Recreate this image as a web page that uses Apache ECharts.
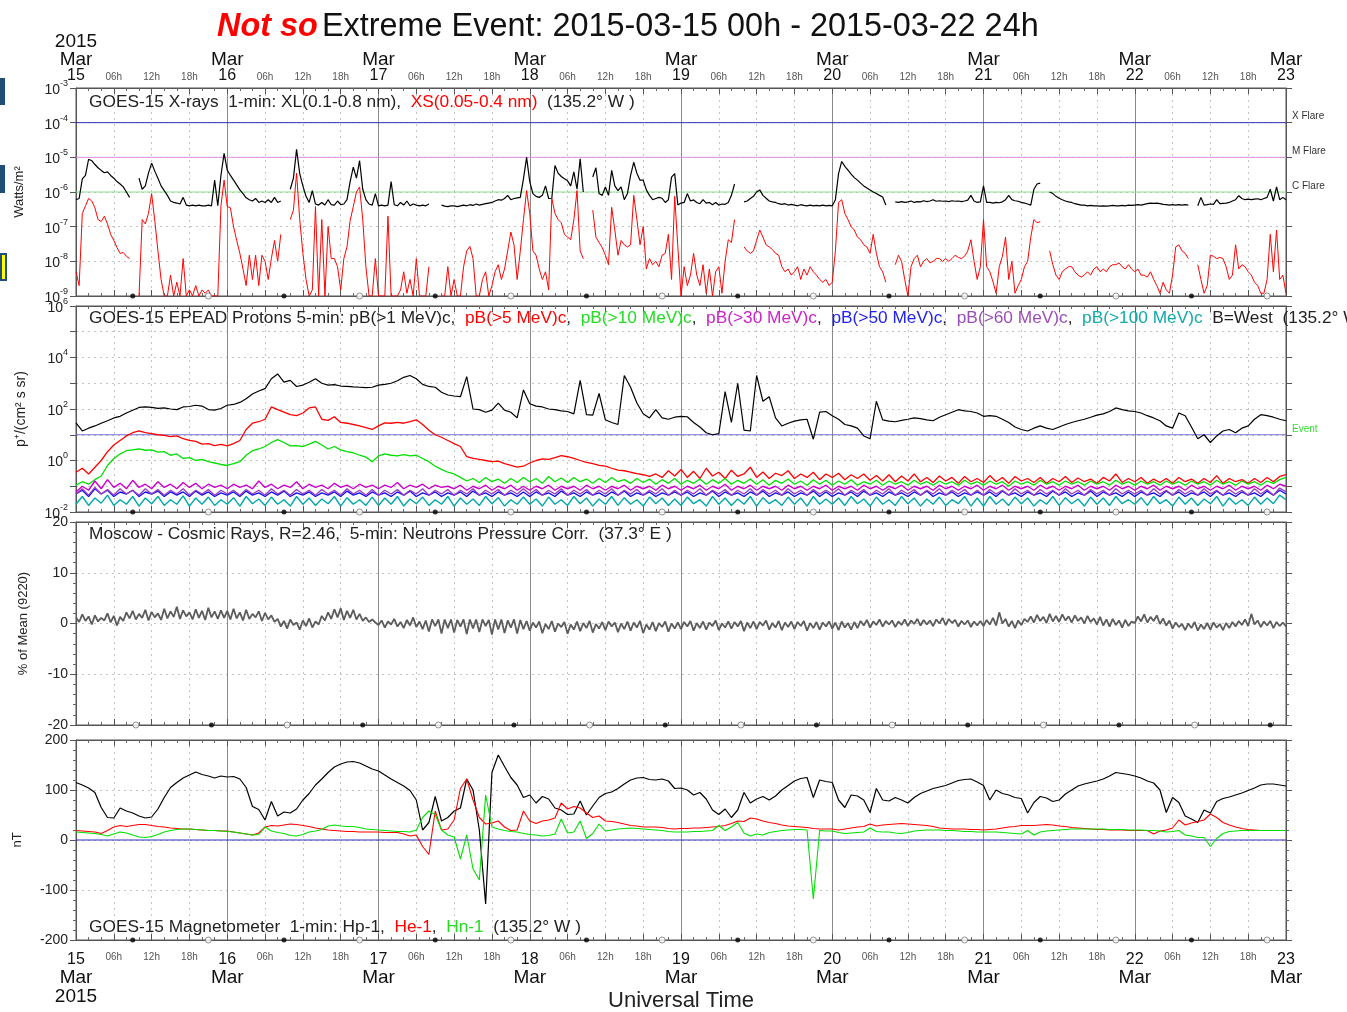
<!DOCTYPE html>
<html><head><meta charset="utf-8">
<script src="https://cdn.jsdelivr.net/npm/echarts@6/dist/echarts.min.js"></script>
<style>html,body{margin:0;padding:0;background:#fff}#c{width:1347px;height:1012px}</style>
</head><body><div id="c"></div>
<script>
// ---------------- DATA ----------------
// sampling steps (hours from 2015-03-15 00h)
const STEP_XRAY = 0.5;
const STEP_COSMIC = 0.5;
const STEP_HOUR = 1;
const T_START = 0, T_END = 192;

// Tick labels
const DAY_LABELS = ['15','16','17','18','19','20','21','22','23'];
const HOUR_LABELS = ['06h','12h','18h'];
const MONTH_LABEL = 'Mar';
const YEAR_LABEL = '2015';

// GOES-15 X-rays XL (0.1-0.8 nm), W/m^2, every 30 min
const XL = [
6e-7,6.5e-7,2.4e-6,3e-6,8.8e-6,8e-6,6.2e-6,5e-6,4.2e-6,3.6e-6,3.8e-6,3e-6,
2.5e-6,2e-6,1.7e-6,1.4e-6,1e-6,7e-7,null,null,2.5e-6,1.2e-6,1.5e-6,3.5e-6,
6.8e-6,4e-6,2.5e-6,1.5e-6,1.1e-6,8e-7,5.5e-7,5e-7,4.8e-7,4.5e-7,7e-7,4.2e-7,
4e-7,4.2e-7,4e-7,4.2e-7,4e-7,4e-7,4.2e-7,4e-7,2.2e-6,4e-7,3e-6,1.3e-5,
4.3e-6,3e-6,2.2e-6,1.6e-6,1.15e-6,9e-7,6.8e-7,6e-7,5.5e-7,6.5e-7,5e-7,5.5e-7,
5e-7,6e-7,5e-7,7e-7,5e-7,5.5e-7,null,null,1.2e-6,2.5e-6,1.7e-5,3.4e-6,
1.5e-6,7.5e-7,5e-7,1.1e-6,4.5e-7,4.2e-7,5e-7,4.2e-7,6e-7,4.3e-7,4.2e-7,5.5e-7,
4.3e-7,4.5e-7,6e-7,2e-6,5.2e-6,2.5e-6,8e-6,1.2e-6,6e-7,4.5e-7,4.2e-7,9e-7,
4e-7,4.2e-7,4e-7,4.2e-7,2e-6,4.3e-7,4e-7,5e-7,4.2e-7,5.5e-7,4e-7,4.5e-7,
4.2e-7,4e-7,4.2e-7,4e-7,4.5e-7,null,null,null,4.2e-7,3.9e-7,3.8e-7,4e-7,
4e-7,3.8e-7,4e-7,4.2e-7,4e-7,4.3e-7,4.1e-7,4.5e-7,4.2e-7,4.4e-7,4.6e-7,4.8e-7,
5e-7,5.5e-7,6e-7,5.8e-7,6.5e-7,8e-7,6e-7,6.5e-7,6.8e-7,7e-7,2.4e-6,1e-5,
2e-6,9e-7,7.5e-7,7e-7,8e-7,1.5e-6,6.5e-7,6.6e-7,5.8e-6,3.5e-6,2.8e-6,2.4e-6,
2.1e-6,1.5e-6,3.8e-6,1.2e-6,9e-6,1e-6,null,null,2.7e-6,5e-6,9e-7,8e-7,
1.4e-6,8e-7,4.2e-6,1.5e-6,1.1e-6,1.4e-6,6e-7,9e-7,3e-6,7.2e-6,3.5e-6,2.2e-6,
2.2e-6,1.15e-6,8e-7,6e-7,6.5e-7,7e-7,6.6e-7,5e-7,6e-7,2.7e-6,3.4e-6,4.2e-7,
4.8e-7,5e-7,9e-7,5.5e-7,5.9e-7,5e-7,4.6e-7,6e-7,4.8e-7,5e-7,4.3e-7,5e-7,
4.2e-7,4.5e-7,4.4e-7,5e-7,8e-7,1.7e-6,null,null,5.2e-7,5.5e-7,6.5e-7,7.5e-7,
1e-6,1.15e-6,8e-7,6.6e-7,5.5e-7,5.2e-7,5e-7,4.6e-7,4.4e-7,4.6e-7,4.2e-7,4.4e-7,
4.2e-7,4e-7,4.3e-7,4.1e-7,4e-7,4.2e-7,4e-7,4.1e-7,4e-7,4.2e-7,4e-7,4.1e-7,
4e-7,6e-7,3.4e-6,7.6e-6,5.5e-6,4.3e-6,3.3e-6,2.6e-6,2.2e-6,1.8e-6,1.5e-6,1.3e-6,
1.15e-6,1e-6,9e-7,8e-7,7.2e-7,4.2e-7,null,null,5.2e-7,5e-7,5.3e-7,5e-7,
5.2e-7,5.5e-7,5e-7,5.3e-7,5.2e-7,5.6e-7,5.3e-7,5.5e-7,6e-7,5.4e-7,5.6e-7,5.4e-7,
5.5e-7,5.3e-7,5.6e-7,5.4e-7,5.5e-7,5.3e-7,5.5e-7,5.8e-7,8e-7,5.5e-7,5e-7,5.2e-7,
1.5e-6,5e-7,5e-7,4.8e-7,5e-7,4.9e-7,5.2e-7,6e-7,8e-7,6e-7,5.6e-7,5.4e-7,
5e-7,4.8e-7,4.5e-7,4.2e-7,1.2e-6,1.7e-6,1.8e-6,null,null,1e-6,9e-7,7.5e-7,
6.6e-7,6e-7,5.5e-7,5.2e-7,5e-7,4.6e-7,4.4e-7,4.2e-7,4.2e-7,4e-7,4.1e-7,4e-7,
4e-7,3.9e-7,4e-7,3.9e-7,4e-7,4.1e-7,4e-7,4e-7,4.1e-7,4e-7,4.2e-7,4.1e-7,
4.2e-7,4.3e-7,4.2e-7,4.4e-7,4.6e-7,4.8e-7,4.7e-7,4.8e-7,4.6e-7,4.4e-7,4.3e-7,4.2e-7,
4.3e-7,4.2e-7,4.3e-7,4.2e-7,4.3e-7,4.2e-7,null,null,4e-7,7e-7,4.2e-7,4.3e-7,
4.5e-7,4.4e-7,6e-7,4.6e-7,4.7e-7,4.8e-7,5e-7,5.5e-7,6e-7,7.8e-7,6.5e-7,6e-7,
6.2e-7,6e-7,6.2e-7,6.4e-7,6e-7,6.5e-7,7e-7,1.2e-6,5.5e-7,1.4e-6,6e-7,7e-7,
6e-7];

// GOES-15 X-rays XS (0.05-0.4 nm), W/m^2, every 30 min
const XS = [
5e-9,2e-9,2.4e-7,4e-7,6.5e-7,5.5e-7,3.5e-7,1.6e-7,1.4e-7,2e-7,1.2e-7,6e-8,
4e-8,2.5e-8,1.7e-8,1.8e-8,1.4e-8,1.2e-8,null,null,1e-9,1.6e-7,1.2e-7,2.4e-7,
9e-7,1.5e-7,2e-8,3e-9,1e-9,1e-9,4e-9,1e-9,2.5e-9,1e-9,1.2e-8,1e-9,
1.5e-9,1e-9,2e-9,1e-9,1.5e-9,1.2e-9,1.5e-9,1e-9,1e-9,1e-9,4e-7,2.2e-6,
3.8e-7,3.5e-7,1e-7,4e-8,1.7e-8,6e-9,2e-9,1.5e-8,3e-9,1.5e-8,2e-9,1.5e-8,
1e-8,3e-9,1.2e-8,4e-8,1e-8,6e-8,null,null,1.6e-7,3e-7,3.5e-6,1.6e-7,
1.7e-8,3e-9,1e-9,1.5e-9,3.8e-7,1e-9,1.6e-7,1e-9,1e-7,1.2e-8,1.2e-8,7e-9,
1.5e-9,1.2e-8,2.6e-8,1.5e-7,3.8e-7,1e-6,1.4e-6,1.6e-7,7e-9,1e-9,1e-9,1.2e-8,
1e-9,1e-9,1e-9,2e-7,1e-9,1e-9,1e-9,1.5e-9,5e-9,1.2e-9,3e-9,1e-9,
1.2e-8,1e-9,1e-9,1e-9,7e-9,null,null,null,1e-9,1e-9,7e-9,1e-9,
3e-9,1e-9,1e-9,7e-9,2e-8,2.7e-8,1.2e-8,1e-9,1e-9,3e-9,5e-9,1e-9,
2e-9,5e-9,8e-9,3e-9,6e-9,2e-8,7e-8,3e-8,3e-9,2e-8,1.6e-7,1.1e-6,
2.4e-7,2e-8,1.5e-8,6e-9,3e-9,5e-9,1.5e-9,6.6e-7,2.4e-7,1.6e-7,1.3e-7,6e-8,
5e-8,4.2e-8,1.6e-7,1.1e-6,2e-8,1.2e-8,null,null,3e-7,5e-8,3.5e-8,2.5e-8,
1.5e-8,8e-9,3.6e-7,8e-8,1.5e-8,4e-8,3e-8,2.6e-8,3e-8,8e-7,1.6e-7,3e-8,
1e-7,6e-9,1.2e-8,8e-9,1e-8,7e-9,1.5e-8,1.7e-8,6e-8,3e-9,7.5e-7,2.6e-8,
1e-9,7e-9,2e-9,4e-9,1.7e-8,4e-9,2e-9,8e-9,1.2e-9,6e-9,1e-9,5e-9,
7e-9,1.2e-9,1e-8,4.2e-8,3.5e-8,1.6e-7,null,null,2.6e-8,2e-8,1.7e-8,2e-8,
4e-8,8e-8,5e-8,3e-8,2.6e-8,2.2e-8,1.7e-8,1.5e-8,7e-9,5e-9,6e-9,4e-9,
5e-9,7e-9,3e-9,6e-9,4e-9,7e-9,5e-9,4e-9,3e-9,2.5e-9,3e-9,2e-9,
2.5e-9,2e-8,5e-7,6e-7,2.4e-7,1.6e-7,1e-7,8e-8,5e-8,4.2e-8,3e-8,2.6e-8,
1.7e-8,6e-8,1.7e-8,7e-9,5e-9,2.5e-9,null,null,8e-9,1.5e-8,1e-8,3e-9,
1e-9,7e-9,1.2e-8,1.5e-8,7e-9,1e-8,1.2e-8,9e-9,1e-8,1.2e-8,1.2e-8,1e-8,
1.2e-8,1e-8,1.2e-8,1.5e-8,1.3e-8,1.2e-8,1.4e-8,2e-8,4.2e-8,1e-8,3e-9,7e-9,
1.6e-7,7e-9,5e-9,2.6e-9,1.2e-9,7e-9,1.4e-8,5e-8,3e-9,1e-8,1.2e-9,2e-9,
3e-9,7e-9,1e-8,5e-8,1.6e-7,1.3e-7,1.4e-7,null,null,2e-8,8e-9,4e-9,
3e-9,5e-9,6e-9,7e-9,7e-9,5e-9,4e-9,3.5e-9,4e-9,5e-9,4e-9,6e-9,
7e-9,5e-9,6e-9,5e-9,7e-9,8e-9,8e-9,9e-9,7e-9,6e-9,8e-9,6e-9,
5e-9,6e-9,4e-9,4e-9,3.5e-9,5e-9,3e-9,2e-9,1.2e-9,2.5e-9,1.5e-9,1.2e-9,
4e-9,2.6e-8,3e-8,2e-8,1.7e-8,1.2e-8,null,null,8e-9,3e-9,1.2e-9,2e-9,
1.5e-8,1.4e-8,1.2e-8,1.3e-8,1.2e-8,7e-9,3e-9,4e-9,3e-8,6e-9,8e-9,7e-9,
5e-9,4e-9,2.5e-9,2e-9,1.2e-9,1.2e-9,3e-9,6e-8,5e-9,8e-8,3e-9,4e-9,
1.2e-9];

// GOES-15 EPEAD protons, hourly
const P1 = [
29,14,18,22,28,35,45,52,70,90,115,120,115,105,110,100,95,120,125,140,130,95,90,105,
140,150,180,250,380,500,620,1500,2300,1100,1300,750,850,1100,1500,1000,850,880,780,750,720,700,680,700,
850,900,1000,1250,1700,2000,1500,900,750,700,450,350,320,300,1800,100,95,75,90,170,90,75,45,550,
160,130,120,100,95,85,80,65,1300,60,58,400,38,30,25,2000,700,170,65,45,94,45,40,48,
52,50,30,20,12,10,11,470,30,1000,15,14,2000,200,300,45,22,28,34,38,40,6.7,75,80,
55,40,25,22,18,9,7,200,38,34,32,36,40,45,42,38,35,48,60,75,94,85,80,70,
52,55,52,40,30,20,16,14,18,22,18,16,20,25,30,35,40,48,58,65,80,110,95,85,
80,70,55,45,35,22,18,70,55,20,7,10,5,9,14,16,12,18,22,40,60,55,48,40,
35];
const P5 = [
0.35,0.5,0.3,0.55,1.0,2.2,4,6,9,12,14,12,11,10,9.5,8.5,9,7,6,5.5,4.3,4.5,3.8,4.2,
3.7,4.5,6,16,28,32,40,120,95,75,60,55,70,110,120,40,36,50,30,28,25,22,19,16,
22,29,28,30,28,32,38,25,15,10,8,6,4.5,3.5,1.4,1.2,1.1,1.0,0.9,0.95,0.75,0.65,0.55,0.6,
0.8,1.0,1.15,1.1,1.3,1.55,1.4,1.2,1.0,0.85,0.75,0.65,0.6,0.5,0.42,0.4,0.35,0.31,0.28,0.24,0.3,0.22,0.4,0.25,
0.45,0.22,0.38,0.2,0.5,0.25,0.35,0.2,0.42,0.24,0.3,0.55,0.22,0.36,0.2,0.32,0.26,0.4,0.2,0.3,0.22,0.35,0.18,0.3,
0.22,0.32,0.18,0.28,0.2,0.3,0.17,0.26,0.16,0.28,0.15,0.25,0.16,0.3,0.15,0.22,0.14,0.25,0.16,0.22,0.13,0.24,0.15,0.2,
0.14,0.26,0.15,0.22,0.13,0.24,0.16,0.2,0.14,0.22,0.13,0.2,0.15,0.24,0.14,0.21,0.15,0.19,0.13,0.22,0.16,0.3,0.14,0.2,
0.15,0.22,0.13,0.19,0.14,0.2,0.13,0.22,0.15,0.19,0.13,0.2,0.14,0.26,0.13,0.2,0.15,0.18,0.13,0.2,0.14,0.22,0.15,0.24,
0.28];
const P10 = [
0.11,0.15,0.12,0.18,0.25,0.64,1.2,1.8,2.4,2.6,2.8,2.5,2.6,2.1,2.2,1.6,1.8,1.2,1.3,1.0,1.1,0.9,0.8,0.7,
0.64,0.75,0.9,1.6,2.4,2.8,3.5,5,6.5,5,3.7,3.8,3.5,4.3,5.5,4,2.8,3.5,2.6,2.2,2.0,1.6,1.35,0.9,
1.5,1.8,1.6,1.5,1.7,1.5,1.6,1.2,0.9,0.6,0.45,0.35,0.3,0.22,0.16,0.2,0.14,0.22,0.15,0.19,0.13,0.2,0.14,0.22,
0.15,0.2,0.13,0.24,0.15,0.21,0.14,0.22,0.15,0.19,0.13,0.2,0.14,0.22,0.15,0.18,0.13,0.2,0.14,0.19,0.12,0.18,0.13,0.2,
0.12,0.17,0.13,0.19,0.12,0.18,0.13,0.2,0.12,0.17,0.13,0.19,0.12,0.18,0.11,0.17,0.13,0.19,0.12,0.16,0.11,0.18,0.12,0.17,
0.11,0.16,0.12,0.18,0.11,0.15,0.12,0.17,0.11,0.16,0.12,0.15,0.11,0.17,0.12,0.15,0.11,0.16,0.12,0.15,0.11,0.17,0.12,0.15,
0.11,0.16,0.12,0.15,0.1,0.16,0.12,0.15,0.11,0.17,0.12,0.15,0.11,0.16,0.12,0.15,0.11,0.16,0.12,0.15,0.11,0.17,0.12,0.15,
0.11,0.16,0.12,0.15,0.11,0.16,0.12,0.15,0.11,0.16,0.12,0.15,0.11,0.17,0.12,0.15,0.11,0.16,0.12,0.15,0.11,0.16,0.13,0.18,
0.22];
const P30 = [
0.06,0.1,0.07,0.16,0.08,0.18,0.09,0.13,0.08,0.17,0.09,0.12,0.08,0.15,0.09,0.12,0.08,0.14,0.09,0.13,0.08,0.12,0.09,0.11,
0.08,0.12,0.09,0.11,0.08,0.16,0.09,0.12,0.08,0.11,0.09,0.15,0.08,0.12,0.09,0.11,0.08,0.13,0.09,0.11,0.08,0.12,0.09,0.11,
0.08,0.11,0.09,0.14,0.08,0.11,0.09,0.12,0.08,0.11,0.09,0.1,0.08,0.11,0.07,0.1,0.08,0.11,0.07,0.1,0.08,0.11,0.07,0.1,
0.07,0.1,0.08,0.11,0.07,0.1,0.08,0.1,0.07,0.11,0.08,0.1,0.07,0.1,0.08,0.11,0.07,0.1,0.08,0.1,0.07,0.11,0.08,0.1,
0.07,0.1,0.08,0.11,0.07,0.1,0.08,0.12,0.07,0.1,0.08,0.11,0.07,0.1,0.08,0.1,0.07,0.11,0.08,0.1,0.07,0.1,0.08,0.11,
0.07,0.1,0.08,0.1,0.07,0.11,0.08,0.1,0.07,0.1,0.08,0.11,0.07,0.1,0.08,0.1,0.07,0.11,0.08,0.1,0.07,0.1,0.08,0.11,
0.07,0.1,0.08,0.11,0.07,0.1,0.08,0.1,0.07,0.11,0.08,0.1,0.07,0.1,0.08,0.11,0.07,0.1,0.08,0.1,0.07,0.11,0.08,0.1,
0.07,0.1,0.08,0.11,0.07,0.1,0.08,0.1,0.07,0.11,0.08,0.1,0.07,0.1,0.08,0.11,0.07,0.1,0.08,0.1,0.07,0.11,0.08,0.12,
0.1];
const P50 = [
0.05,0.07,0.04,0.08,0.05,0.07,0.04,0.06,0.05,0.07,0.04,0.06,0.05,0.065,0.04,0.06,0.045,0.06,0.04,0.065,0.045,0.06,0.04,0.055,
0.045,0.06,0.04,0.065,0.045,0.055,0.04,0.06,0.045,0.065,0.04,0.055,0.045,0.06,0.04,0.055,0.045,0.06,0.04,0.065,0.045,0.055,0.04,0.06,
0.045,0.055,0.04,0.06,0.045,0.065,0.04,0.055,0.045,0.06,0.04,0.055,0.045,0.06,0.04,0.065,0.045,0.055,0.04,0.06,0.045,0.055,0.04,0.06,
0.04,0.06,0.045,0.055,0.04,0.065,0.045,0.055,0.04,0.06,0.045,0.055,0.04,0.06,0.045,0.065,0.04,0.055,0.045,0.06,0.04,0.055,0.045,0.06,
0.045,0.06,0.04,0.055,0.045,0.065,0.04,0.06,0.045,0.055,0.04,0.06,0.045,0.065,0.04,0.055,0.045,0.06,0.04,0.055,0.045,0.065,0.04,0.06,
0.04,0.055,0.045,0.06,0.04,0.065,0.045,0.055,0.04,0.06,0.045,0.055,0.04,0.06,0.045,0.065,0.04,0.055,0.045,0.06,0.04,0.055,0.045,0.06,
0.045,0.06,0.04,0.065,0.045,0.055,0.04,0.06,0.045,0.055,0.04,0.065,0.045,0.06,0.04,0.055,0.045,0.065,0.04,0.06,0.045,0.055,0.04,0.06,
0.04,0.06,0.045,0.055,0.04,0.065,0.045,0.06,0.04,0.055,0.045,0.06,0.04,0.065,0.045,0.055,0.04,0.06,0.045,0.055,0.04,0.065,0.045,0.07,
0.05];
const P60 = [
0.05,0.08,0.045,0.09,0.05,0.075,0.045,0.08,0.05,0.07,0.045,0.08,0.05,0.075,0.045,0.07,0.05,0.08,0.045,0.07,0.05,0.075,0.045,0.07,
0.05,0.07,0.045,0.075,0.05,0.07,0.045,0.08,0.05,0.07,0.045,0.075,0.05,0.07,0.045,0.075,0.05,0.07,0.045,0.08,0.05,0.07,0.045,0.075,
0.045,0.07,0.05,0.075,0.045,0.07,0.05,0.08,0.045,0.07,0.05,0.075,0.045,0.07,0.05,0.08,0.045,0.07,0.05,0.075,0.045,0.07,0.05,0.08,
0.05,0.075,0.045,0.07,0.05,0.08,0.045,0.07,0.05,0.075,0.045,0.07,0.05,0.08,0.045,0.07,0.05,0.075,0.045,0.07,0.05,0.08,0.045,0.07,
0.045,0.07,0.05,0.08,0.045,0.07,0.05,0.075,0.045,0.07,0.05,0.08,0.045,0.075,0.05,0.07,0.045,0.08,0.05,0.07,0.045,0.075,0.05,0.07,
0.05,0.08,0.045,0.07,0.05,0.075,0.045,0.07,0.05,0.08,0.045,0.07,0.05,0.075,0.045,0.07,0.05,0.08,0.045,0.07,0.05,0.075,0.045,0.07,
0.045,0.075,0.05,0.07,0.045,0.08,0.05,0.07,0.045,0.075,0.05,0.07,0.045,0.08,0.05,0.07,0.045,0.075,0.05,0.07,0.045,0.08,0.05,0.07,
0.05,0.07,0.045,0.08,0.05,0.07,0.045,0.075,0.05,0.07,0.045,0.08,0.05,0.07,0.045,0.075,0.05,0.07,0.045,0.08,0.05,0.075,0.045,0.085,
0.06];
const P100 = [
0.02,0.04,0.018,0.035,0.022,0.045,0.018,0.03,0.02,0.04,0.017,0.035,0.021,0.04,0.018,0.03,0.02,0.042,0.017,0.035,0.02,0.038,0.018,0.03,
0.02,0.036,0.017,0.04,0.021,0.032,0.018,0.038,0.02,0.03,0.017,0.04,0.02,0.035,0.018,0.032,0.021,0.04,0.017,0.036,0.02,0.03,0.018,0.038,
0.018,0.035,0.02,0.04,0.017,0.032,0.021,0.038,0.018,0.03,0.02,0.04,0.017,0.035,0.02,0.032,0.018,0.04,0.021,0.036,0.017,0.03,0.02,0.038,
0.02,0.032,0.017,0.038,0.02,0.03,0.018,0.04,0.021,0.035,0.017,0.032,0.02,0.04,0.018,0.036,0.02,0.03,0.017,0.038,0.021,0.035,0.018,0.032,
0.018,0.038,0.021,0.03,0.017,0.04,0.02,0.035,0.018,0.032,0.02,0.04,0.017,0.036,0.021,0.03,0.018,0.038,0.02,0.035,0.017,0.04,0.02,0.032,
0.02,0.035,0.018,0.04,0.021,0.032,0.017,0.038,0.02,0.03,0.018,0.04,0.021,0.035,0.017,0.032,0.02,0.038,0.018,0.03,0.021,0.04,0.017,0.035,
0.017,0.04,0.02,0.032,0.018,0.038,0.021,0.035,0.017,0.03,0.02,0.04,0.018,0.036,0.021,0.032,0.017,0.038,0.02,0.035,0.018,0.04,0.021,0.03,
0.02,0.036,0.018,0.04,0.021,0.03,0.017,0.038,0.02,0.035,0.018,0.032,0.021,0.04,0.017,0.035,0.02,0.03,0.018,0.038,0.02,0.035,0.021,0.045,
0.03];

// Moscow neutron monitor, % of mean, every 30 min
const COSMIC = [
1.2,0.3,1.8,0.5,1.4,-0.2,1.6,0.4,1.1,0.6,2.0,0.2,1.5,-0.4,1.3,0.5,
2.2,1.0,2.5,0.8,1.9,1.1,2.7,0.6,2.3,1.2,2.0,0.7,2.9,1.0,2.4,1.3,
3.3,0.9,2.6,1.4,2.2,0.8,2.8,1.1,2.5,0.7,3.1,1.2,2.4,0.9,2.6,1.1,
2.5,0.8,2.9,1.0,2.2,0.6,2.7,0.9,1.9,1.2,2.4,0.5,2.1,0.8,1.6,0.3,
0.9,-0.6,0.5,-1.0,0.8,-0.3,0.2,-1.2,0.6,-0.5,1.0,-0.8,0.4,-0.2,1.5,0.6,
2.2,0.9,2.8,1.2,3.0,0.7,2.5,1.1,2.7,0.8,1.9,0.5,1.2,0.3,0.8,0.2,
-0.3,0.6,-0.8,0.4,-0.2,0.9,-0.6,0.3,-0.9,0.7,-0.4,1.2,-0.7,0.4,-1.1,0.6,
-1.6,0.8,-0.5,0.8,-2.0,0.8,-0.9,0.8,-1.8,0.7,-0.6,0.8,-2.1,0.8,-1.0,0.8,
-1.7,0.8,-0.5,0.7,-2.2,0.8,-1.2,0.8,-1.9,0.6,-0.8,0.8,-2.0,0.7,-1.1,0.5,
-1.4,0.2,-0.8,0.4,-1.9,-0.1,-1.1,0.5,-1.6,0.0,-0.7,0.3,-2.0,-0.2,-1.2,0.4,
-1.5,0.1,-0.9,0.5,-1.8,-0.1,-1.0,0.3,-1.3,0.4,-0.6,0.2,-1.7,0.0,-1.1,0.4,
-1.4,0.2,-0.8,0.5,-1.9,-0.2,-1.2,0.3,-1.5,0.1,-0.7,0.4,-1.6,0.0,-1.0,0.2,
-1.1,0.3,-0.6,0.5,-1.4,0.1,-0.9,0.4,-1.2,0.2,-0.5,0.6,-1.3,0.0,-0.8,0.4,
-1.0,0.3,-0.6,0.5,-1.5,0.2,-0.9,0.4,-1.1,0.3,-0.4,0.6,-1.2,0.1,-0.8,0.5,
-1.3,0.2,-0.7,0.4,-1.1,0.3,-0.5,0.5,-1.4,0.1,-0.9,0.3,-1.2,0.2,-0.6,0.4,
-1.0,0.2,-1.3,0.4,-0.8,0.1,-1.2,0.3,-0.9,0.5,-0.4,0.7,-0.8,0.4,-0.3,0.8,
-0.6,0.5,-0.2,0.6,-0.7,0.4,-0.3,0.8,-0.5,0.6,-0.1,0.9,-0.4,0.7,-0.2,0.6,
-0.5,0.8,0.0,1.1,-0.3,0.9,0.1,0.7,-0.6,0.5,-0.2,0.6,-0.7,0.4,-0.4,0.5,
-0.5,0.7,-0.2,1.1,-0.4,2.2,0.0,0.9,-0.6,0.5,-0.9,0.6,-0.3,0.9,0.3,1.4,
0.2,1.7,0.5,1.3,0.1,1.9,0.4,1.5,0.3,1.8,0.6,1.4,0.2,1.6,0.5,1.2,
0.0,1.5,0.3,1.0,-0.2,1.3,-0.4,0.8,-0.6,0.9,-0.3,0.6,-0.8,0.7,-0.5,0.4,
0.1,1.4,0.4,1.8,0.2,1.3,0.5,1.6,-0.1,1.0,-0.4,0.6,-1.0,0.2,-0.7,-0.1,
-1.3,0.0,-0.9,0.3,-1.4,-0.2,-1.1,0.1,-1.2,0.2,-0.8,-0.1,-1.3,0.1,-0.9,0.3,
-0.6,0.5,-0.3,0.8,-0.5,1.9,-0.2,0.6,-0.7,0.4,-0.4,0.5,-0.9,0.3,-0.5,0.2,
-0.6];

// GOES-15 magnetometer, nT, hourly
const HP = [
115,110,104,95,65,45,44,64,58,54,48,44,46,62,85,105,115,124,130,136,131,128,124,128,
126,127,122,105,67,61,40,77,48,56,54,62,80,93,110,122,135,146,152,156,157,154,148,142,
138,130,122,115,108,99,80,20,35,87,38,45,58,64,122,100,20,-128,135,170,147,125,110,85,
90,74,87,82,64,60,51,52,78,50,68,85,93,96,103,112,120,124,125,121,120,122,118,103,
104,100,90,95,82,60,51,62,45,60,95,74,82,87,80,88,100,109,118,123,125,85,120,117,
115,80,65,90,88,80,55,103,80,78,85,80,74,85,93,98,103,106,109,114,119,121,122,116,
109,80,100,93,90,85,83,54,75,87,84,77,80,92,100,108,112,115,118,122,128,135,133,131,
128,124,118,114,100,55,85,75,48,42,35,60,54,77,83,86,90,94,99,104,110,112,112,110,
108];
const HE = [
19,18,17,16,13,19,26,29,27,29,31,31,29,27,26,24,23,22,22,21,20,19,19,18,
18,16,14,12,10,14,26,29,28,30,32,31,29,27,24,22,20,19,18,17,17,16,16,16,
16,15,15,15,12,8,10,-13,-29,58,20,22,40,103,122,80,45,32,34,38,26,19,20,58,
38,33,38,40,44,74,62,67,64,54,45,48,38,37,35,32,29,28,26,26,26,25,23,22,
23,23,24,24,25,26,27,29,33,38,37,44,42,38,35,33,30,28,27,26,25,23,22,22,
22,20,22,24,26,27,32,28,30,31,32,33,32,31,30,29,27,24,23,22,22,22,21,21,
20,21,22,24,26,27,29,29,29,30,31,30,28,27,25,24,23,22,21,21,20,20,20,19,
19,19,19,12,18,20,24,40,30,34,37,40,52,45,35,30,26,23,21,20,19,19,19,19,
19];
const HN = [
16,15,14,13,11,8,12,16,14,10,6,5,7,11,16,19,21,22,22,21,20,19,19,18,
17,16,14,12,10,11,26,18,15,13,9,8,11,16,18,21,28,30,28,27,27,25,22,21,
20,19,18,17,17,16,20,45,58,51,20,10,6,-38,10,-58,-80,90,26,22,19,17,16,13,
11,10,8,9,12,42,14,16,38,3,13,32,18,20,22,23,24,23,22,21,20,19,17,16,
16,16,17,17,18,19,29,19,26,35,14,8,12,10,15,17,19,20,21,21,20,-118,19,18,
18,15,13,14,15,16,24,17,16,16,14,13,15,18,19,20,20,20,19,19,18,17,17,16,
16,16,16,15,14,13,12,19,10,16,18,19,20,21,22,22,22,22,22,22,21,21,21,20,
20,20,19,19,18,16,17,19,10,8,5,5,-13,3,13,17,18,19,19,19,19,19,19,19,
19];

// Reference levels
const FLARE_LEVELS = [1e-4, 1e-5, 1e-6];
const FLARE_NAMES = ['X Flare', 'M Flare', 'C Flare'];
const PROTON_EVENT_LEVEL = 10;
const MAG_ZERO = 0;

// Local midnight (filled) / local noon (open) markers, hours UT
const GOES_MIDNIGHT = [9,33,57,81,105,129,153,177];
const GOES_NOON = [21,45,69,93,117,141,165,189];
const MOSCOW_NOON = [9.5,33.5,57.5,81.5,105.5,129.5,153.5,177.5];
const MOSCOW_MIDNIGHT = [21.5,45.5,69.5,93.5,117.5,141.5,165.5,189.5];

// ---------------- CHECK ----------------
const expect = {XL:[XL,385],XS:[XS,385],P1:[P1,193],P5:[P5,193],P10:[P10,193],P30:[P30,193],P50:[P50,193],P60:[P60,193],P100:[P100,193],COSMIC:[COSMIC,385],HP:[HP,193],HE:[HE,193],HN:[HN,193]};
const bad = Object.keys(expect).filter(k=>expect[k][0].length!==expect[k][1]).map(k=>k+'='+expect[k][0].length);
if (bad.length) throw new Error('Length mismatch: '+bad.join(', '));

// ---------------- CHART ----------------
const FONT = '"Liberation Sans", Arial, Helvetica, sans-serif';
const chart = echarts.init(document.getElementById('c'), null, {renderer:'canvas'});

const GRIDS = [
  {left:76, top:88, width:1210, height:208},
  {left:76, top:306, width:1210, height:206},
  {left:76, top:522, width:1210, height:203},
  {left:76, top:740, width:1210, height:200}
];

function topFmt(v){
  const h = v % 24;
  if (h === 0) return (v === 0 ? '{y|'+YEAR_LABEL+'}\n' : '') + '{m|'+MONTH_LABEL+'}\n{d|'+DAY_LABELS[v/24]+'}';
  return '{h|'+HOUR_LABELS[h/6-1]+'}';
}
function botFmt(v){
  const h = v % 24;
  if (h === 0) return '{d|'+DAY_LABELS[v/24]+'}\n{m|'+MONTH_LABEL+'}' + (v === 0 ? '\n{y|'+YEAR_LABEL+'}' : '');
  return '{h|'+HOUR_LABELS[h/6-1]+'}';
}
const richTop = {
  y:{fontSize:19, lineHeight:18, fontFamily:FONT, color:'#111'},
  m:{fontSize:19, lineHeight:18, fontFamily:FONT, color:'#111'},
  d:{fontSize:16, lineHeight:14, fontFamily:FONT, color:'#111'},
  h:{fontSize:10, lineHeight:12, fontFamily:FONT, color:'#555'}
};
const richBot = {
  d:{fontSize:16, lineHeight:17, fontFamily:FONT, color:'#111'},
  m:{fontSize:19, lineHeight:19, fontFamily:FONT, color:'#111'},
  y:{fontSize:19, lineHeight:19, fontFamily:FONT, color:'#111'},
  h:{fontSize:10, lineHeight:12, fontFamily:FONT, color:'#555'}
};

const xAxes = [];
GRIDS.forEach((g, gi) => {
  const base = {type:'value', gridIndex:gi, min:T_START, max:T_END, interval:6};
  xAxes.push(Object.assign({}, base, {
    position:'bottom',
    axisLine:{show:true, onZero:false, lineStyle:{color:'#555', width:1}},
    axisTick:{show:true, inside:true, length:6, lineStyle:{color:'#555'}},
    minorTick:{show:true, splitNumber:3, length:3, lineStyle:{color:'#666'}},
    splitLine:{show:true, lineStyle:{color:'#c4c4c4', type:[2,4], width:1}},
    axisLabel: gi === 3 ? {show:true, formatter:botFmt, rich:richBot, margin:11, showMinLabel:true, showMaxLabel:true, hideOverlap:false} : {show:false}
  }));
  xAxes.push(Object.assign({}, base, {
    position:'top',
    axisLine:{show:true, onZero:false, lineStyle:{color:'#555', width:1}},
    axisTick:{show:true, inside:true, length:6, lineStyle:{color:'#555'}},
    minorTick:{show:true, splitNumber:3, length:3, lineStyle:{color:'#666'}},
    splitLine:{show:false},
    axisLabel: gi === 0 ? {show:true, formatter:topFmt, rich:richTop, margin:5, showMinLabel:true, showMaxLabel:true, hideOverlap:false} : {show:false}
  }));
  xAxes.push(Object.assign({}, base, {
    interval:24, position:'bottom',
    axisLine:{show:false, onZero:false}, axisTick:{show:false}, axisLabel:{show:false}, minorTick:{show:false},
    splitLine:{show:true, lineStyle:{color:'#8a8a8a', width:1, type:'solid'}}
  }));
});

function supFmtAll(v){ const e = Math.round(Math.log10(v)); return '{b|10}{s|'+e+'}'; }
function supFmtEven(v){ const e = Math.round(Math.log10(v)); return (e % 2 === 0) ? '{b|10}{s|'+e+'}' : ''; }
const richSup = {
  b:{fontSize:14, lineHeight:18, fontFamily:FONT, color:'#222', verticalAlign:'bottom'},
  s:{fontSize:9, lineHeight:18, fontFamily:FONT, color:'#222', verticalAlign:'top'}
};
const yLine = {show:true, onZero:false, lineStyle:{color:'#555', width:1}};
const yTick = {show:true, length:6, lineStyle:{color:'#555'}};
const ySplit = {show:true, lineStyle:{color:'#c4c4c4', type:[2,4], width:1}};
const nameStyle = {fontSize:13, fontFamily:FONT, color:'#222'};
const linMinor = {show:true, splitNumber:5, length:3, lineStyle:{color:'#666'}};

const yAxes = [
  {type:'log', logBase:10, min:1e-9, max:1e-3, splitNumber:6, gridIndex:0, position:'left',
   axisLine:yLine, axisTick:yTick, splitLine:ySplit,
   axisLabel:{formatter:supFmtAll, rich:richSup, margin:8},
   name:'Watts/m²', nameLocation:'middle', nameGap:50, nameRotate:90, nameTextStyle:nameStyle},
  {type:'log', logBase:10, min:1e-9, max:1e-3, splitNumber:6, gridIndex:0, position:'right',
   axisLine:yLine, axisTick:yTick, splitLine:{show:false}, axisLabel:{show:false}},
  {type:'log', logBase:10, min:1e-2, max:1e6, splitNumber:8, gridIndex:1, position:'left',
   axisLine:yLine, axisTick:yTick, splitLine:ySplit,
   axisLabel:{formatter:supFmtEven, rich:richSup, margin:8},
   name:'p⁺/(cm² s sr)', nameLocation:'middle', nameGap:48, nameRotate:90, nameTextStyle:{fontSize:14, fontFamily:FONT, color:'#222'}},
  {type:'log', logBase:10, min:1e-2, max:1e6, splitNumber:8, gridIndex:1, position:'right',
   axisLine:yLine, axisTick:yTick, splitLine:{show:false}, axisLabel:{show:false}},
  {type:'value', min:-20, max:20, interval:10, gridIndex:2, position:'left',
   axisLine:yLine, axisTick:yTick, minorTick:linMinor, splitLine:ySplit,
   axisLabel:{fontSize:14, fontFamily:FONT, color:'#222', margin:8},
   name:'% of Mean (9220)', nameLocation:'middle', nameGap:46, nameRotate:90, nameTextStyle:nameStyle},
  {type:'value', min:-20, max:20, interval:10, gridIndex:2, position:'right',
   axisLine:yLine, axisTick:yTick, minorTick:linMinor, splitLine:{show:false}, axisLabel:{show:false}},
  {type:'value', min:-200, max:200, interval:100, gridIndex:3, position:'left',
   axisLine:yLine, axisTick:yTick, minorTick:linMinor, splitLine:ySplit,
   axisLabel:{fontSize:14, fontFamily:FONT, color:'#222', margin:8},
   name:'nT', nameLocation:'middle', nameGap:52, nameRotate:90, nameTextStyle:nameStyle},
  {type:'value', min:-200, max:200, interval:100, gridIndex:3, position:'right',
   axisLine:yLine, axisTick:yTick, minorTick:linMinor, splitLine:{show:false}, axisLabel:{show:false}}
];

function line(arr, step, gi, color, width){
  return {
    type:'line', data: arr.map((v,i)=>[i*step, v]),
    xAxisIndex: gi*3, yAxisIndex: gi*2,
    showSymbol:false, symbol:'none', silent:true, animation:false, connectNulls:false,
    lineStyle:{color:color, width:width}, itemStyle:{color:color}, z:3
  };
}
function level(value, gi, color, label, labelColor){
  const s = {
    type:'line', data:[[T_START, value],[T_END, value]], xAxisIndex: gi*3, yAxisIndex: gi*2,
    showSymbol:false, symbol:'none', silent:true, animation:false, z:2,
    lineStyle:{color:color, width:1}, itemStyle:{color:color}
  };
  if (label) s.endLabel = {show:true, formatter:label, color:labelColor, fontSize:10, fontFamily:FONT, distance:6, offset:[0,-6]};
  return s;
}
function dots(times, gi, yVal, filled){
  return {
    type:'scatter', data: times.map(t=>[t, yVal]), xAxisIndex: gi*3, yAxisIndex: gi*2,
    symbol:'circle', symbolSize: filled ? 5 : 6, silent:true, animation:false, clip:false, z:6,
    itemStyle: filled ? {color:'#000'} : {color:'#fff', borderColor:'#777', borderWidth:1}
  };
}

const FLARE_COLORS = ['#2e2ebf','#e08fe0','#8fdf8f'];
const series = [
  level(FLARE_LEVELS[0], 0, FLARE_COLORS[0], FLARE_NAMES[0], '#333'),
  level(FLARE_LEVELS[1], 0, FLARE_COLORS[1], FLARE_NAMES[1], '#333'),
  level(FLARE_LEVELS[2], 0, FLARE_COLORS[2], FLARE_NAMES[2], '#333'),
  level(PROTON_EVENT_LEVEL, 1, '#6f6fd8', 'Event', '#33dd33'),
  level(MAG_ZERO, 3, '#2e2ebf', null, null),
  line(XL, STEP_XRAY, 0, '#000000', 1.2),
  line(XS, STEP_XRAY, 0, '#ff0000', 1.0),
  line(P1, STEP_HOUR, 1, '#000000', 1.2),
  line(P5, STEP_HOUR, 1, '#ff0000', 1.3),
  line(P10, STEP_HOUR, 1, '#00e000', 1.3),
  line(P30, STEP_HOUR, 1, '#cc00cc', 1.4),
  line(P50, STEP_HOUR, 1, '#1010ee', 1.4),
  line(P60, STEP_HOUR, 1, '#9a3fc0', 1.4),
  line(P100, STEP_HOUR, 1, '#00a8a8', 1.4),
  line(COSMIC, STEP_COSMIC, 2, '#5c5c5c', 1.8),
  line(HP, STEP_HOUR, 3, '#000000', 1.2),
  line(HE, STEP_HOUR, 3, '#ff0000', 1.1),
  line(HN, STEP_HOUR, 3, '#00e000', 1.1),
  dots(GOES_MIDNIGHT, 0, 1e-9, true), dots(GOES_NOON, 0, 1e-9, false),
  dots(GOES_MIDNIGHT, 1, 1e-2, true), dots(GOES_NOON, 1, 1e-2, false),
  dots(MOSCOW_MIDNIGHT, 2, -20, true), dots(MOSCOW_NOON, 2, -20, false),
  dots(GOES_MIDNIGHT, 3, -200, true), dots(GOES_NOON, 3, -200, false)
];

const TS = 17.3;
function txt(x, y, text, rich){
  return {type:'text', x:x, y:y, z:100, silent:true,
    style:{text:text, rich:rich, fontSize:TS, fontFamily:FONT, fill:'#222', verticalAlign:'top'}};
}
const tk = (c)=>({fontSize:TS, fontFamily:FONT, fill:c});

const graphic = [
  {type:'rect', shape:{x:0,y:78,width:5,height:27}, style:{fill:'#1f4e79'}, silent:true},
  {type:'rect', shape:{x:0,y:165,width:5,height:28}, style:{fill:'#1f4e79'}, silent:true},
  {type:'rect', shape:{x:1,y:254,width:5,height:26}, style:{fill:'#ffff00', stroke:'#1f4e79', lineWidth:2}, silent:true},
  {type:'text', x:217, y:11, silent:true, style:{text:'Not so', fill:'#ff0000', fontSize:32.4, fontWeight:'bold', fontStyle:'italic', fontFamily:FONT, verticalAlign:'top'}},
  {type:'text', x:322, y:11, silent:true, style:{text:'Extreme Event: 2015-03-15 00h - 2015-03-22 24h', fill:'#111', fontSize:32.4, fontFamily:FONT, verticalAlign:'top'}},
  txt(89, 94, '{k|GOES-15 X-rays  1-min: XL(0.1-0.8 nm),  }{r|XS(0.05-0.4 nm)}{k|  (135.2° W )}', {k:tk('#222'), r:tk('#ff0000')}),
  txt(89, 310, '{k|GOES-15 EPEAD Protons 5-min: pB(>1 MeV)c,  }{r|pB(>5 MeV)c}{k|,  }{g|pB(>10 MeV)c}{k|,  }{m|pB(>30 MeV)c}{k|,  }{b|pB(>50 MeV)c}{k|,  }{p|pB(>60 MeV)c}{k|,  }{c|pB(>100 MeV)c}{k|  B=West  (135.2° W )}',
      {k:tk('#222'), r:tk('#ff0000'), g:tk('#22dd22'), m:tk('#cc22cc'), b:tk('#2222ee'), p:tk('#9a4fb8'), c:tk('#11aaaa')}),
  txt(89, 526, '{k|Moscow - Cosmic Rays, R=2.46,  5-min: Neutrons Pressure Corr.  (37.3° E )}', {k:tk('#222')}),
  txt(89, 919, '{k|GOES-15 Magnetometer  1-min: Hp-1,  }{r|He-1}{k|,  }{g|Hn-1}{k|  (135.2° W )}', {k:tk('#222'), r:tk('#ff0000'), g:tk('#22dd22')}),
  {type:'text', x:681, y:1001, silent:true, style:{text:'Universal Time', fill:'#222', fontSize:22, fontFamily:FONT, align:'center', verticalAlign:'middle'}}
];

chart.setOption({
  animation:false,
  backgroundColor:'#ffffff',
  textStyle:{fontFamily:FONT},
  grid: GRIDS.map(g=>Object.assign({show:true, borderColor:'#555', borderWidth:1, backgroundColor:'transparent', containLabel:false, outerBoundsMode:'none'}, g)),
  xAxis: xAxes,
  yAxis: yAxes,
  series: series,
  graphic: graphic
});
</script>
</body></html>
